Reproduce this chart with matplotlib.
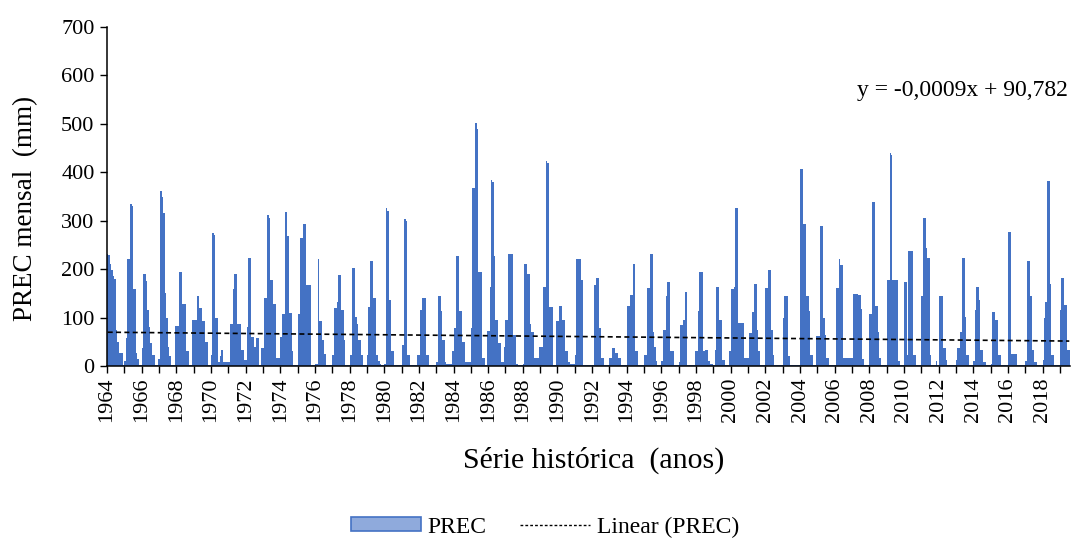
import numpy as np
import pandas as pd
import matplotlib
matplotlib.use("Agg")
import matplotlib.pyplot as plt
from matplotlib.patches import Patch
from matplotlib.lines import Line2D

plt.rcParams['font.family'] = ['Liberation Serif', 'DejaVu Serif']

# === Monthly precipitation (mm), Jan/1964 onwards, one row per year ===
prec_1964_1973 = [
    232, 230, 210, 199, 185, 180, 75, 50, 26, 26, 26, 2,      # 1964
    10, 57, 220, 220, 335, 330, 158, 158, 26, 15, 3, 3,       # 1965
    37, 190, 190, 175, 116, 80, 47, 23, 23, 3, 3, 15,         # 1966
    15, 361, 350, 315, 150, 99, 40, 20, 2, 2, 2, 83,          # 1967
    83, 83, 194, 194, 128, 128, 128, 30, 30, 2, 2, 95,        # 1968
    95, 95, 145, 145, 120, 120, 92, 92, 49, 49, 2, 2,         # 1969
    23, 274, 270, 100, 100, 9, 20, 33, 8, 8, 8, 8,            # 1970
    8, 86, 86, 158, 191, 191, 86, 86, 86, 33, 33, 12,         # 1971
    12, 80, 223, 223, 59, 59, 40, 57, 57, 3, 3, 37,           # 1972
    37, 140, 140, 311, 305, 178, 178, 128, 128, 16, 16, 16,   # 1973
]
prec_1974_1983 = [
    60, 107, 107, 319, 319, 268, 109, 109, 30, 3, 3, 3,       # 1974
    107, 107, 265, 265, 294, 294, 168, 168, 168, 2, 2, 2,     # 1975
    5, 5, 220, 92, 92, 54, 24, 24, 2, 2, 2, 2,                # 1976
    23, 120, 120, 132, 187, 187, 116, 116, 54, 3, 3, 3,       # 1977
    23, 23, 202, 202, 102, 86, 54, 54, 23, 2, 2, 2,           # 1978
    23, 121, 216, 216, 140, 140, 23, 23, 10, 5, 2, 2,         # 1979
    5, 327, 320, 137, 137, 30, 30, 2, 2, 2, 2, 2,             # 1980
    44, 44, 303, 300, 23, 23, 2, 2, 2, 2, 2, 23,              # 1981
    23, 116, 140, 140, 140, 23, 23, 2, 2, 2, 2, 2,            # 1982
    8, 145, 145, 113, 54, 54, 8, 5, 5, 5, 5, 30,              # 1983
]
prec_1984_1993 = [
    78, 78, 228, 228, 113, 113, 50, 50, 9, 9, 9, 9,           # 1984
    78, 368, 368, 501, 490, 194, 194, 194, 16, 16, 2, 72,     # 1985
    72, 164, 385, 380, 227, 95, 95, 47, 47, 9, 9, 40,         # 1986
    95, 95, 232, 232, 232, 65, 65, 5, 5, 2, 2, 2,             # 1987
    5, 210, 210, 190, 190, 86, 71, 71, 16, 16, 16, 40,        # 1988
    40, 40, 164, 164, 424, 420, 121, 121, 121, 3, 3, 92,      # 1989
    92, 123, 123, 95, 95, 30, 30, 9, 9, 5, 5, 5,              # 1990
    23, 220, 220, 220, 178, 178, 3, 3, 2, 2, 2, 2,            # 1991
    2, 168, 168, 182, 182, 78, 16, 16, 2, 2, 2, 2,            # 1992
    16, 16, 37, 37, 26, 26, 16, 16, 3, 3, 3, 3,               # 1993
]
prec_1994_2003 = [
    124, 124, 147, 147, 210, 210, 30, 30, 2, 2, 2, 2,         # 1994
    23, 23, 161, 161, 232, 232, 70, 40, 10, 3, 3, 3,          # 1995
    10, 75, 75, 144, 173, 173, 30, 30, 30, 2, 2, 2,           # 1996
    8, 85, 85, 95, 153, 153, 2, 2, 2, 2, 2, 30,               # 1997
    30, 113, 194, 194, 194, 30, 33, 33, 10, 10, 5, 5,         # 1998
    2, 33, 164, 164, 95, 95, 12, 12, 2, 2, 2, 30,             # 1999
    158, 158, 164, 327, 327, 88, 88, 88, 88, 16, 16, 16,      # 2000
    16, 68, 68, 111, 169, 169, 75, 30, 3, 3, 3, 3,            # 2001
    161, 161, 199, 199, 75, 23, 2, 2, 2, 2, 2, 2,             # 2002
    99, 144, 144, 144, 20, 3, 2, 2, 2, 2, 2, 2,               # 2003
]
prec_2004_2013 = [
    406, 406, 294, 294, 144, 144, 114, 23, 23, 2, 2, 61,      # 2004
    61, 61, 289, 289, 99, 64, 16, 16, 2, 2, 2, 2,             # 2005
    2, 161, 161, 220, 209, 209, 16, 16, 16, 16, 16, 16,       # 2006
    16, 149, 149, 149, 146, 146, 117, 15, 2, 2, 2, 2,         # 2007
    107, 107, 339, 339, 123, 123, 71, 16, 2, 2, 2, 2,         # 2008
    178, 178, 439, 435, 178, 178, 178, 178, 10, 2, 2, 2,      # 2009
    173, 173, 23, 237, 237, 237, 23, 23, 2, 2, 2, 2,          # 2010
    144, 306, 306, 244, 222, 222, 23, 2, 2, 2, 10, 2,         # 2011
    144, 144, 144, 37, 37, 12, 2, 2, 2, 2, 2, 2,              # 2012
    12, 37, 37, 71, 223, 223, 102, 23, 23, 2, 2, 2,           # 2013
]
prec_2014_2019 = [
    10, 116, 164, 164, 137, 33, 33, 9, 9, 2, 2, 2,            # 2014
    5, 111, 111, 95, 95, 23, 23, 2, 2, 2, 2, 2,               # 2015
    277, 277, 24, 24, 24, 24, 2, 2, 2, 2, 2, 2,               # 2016
    10, 216, 216, 144, 144, 33, 9, 9, 2, 2, 2, 2,             # 2017
    12, 99, 133, 382, 382, 169, 23, 23, 2, 2, 2, 2,           # 2018
    116, 182, 182, 126, 126, 33, 33,                          # 2019
]

# Excel trend line: y = a*x + b, x = date serial number
trend_a = -0.0009
trend_b = 90.782

prec = np.array(prec_1964_1973 + prec_1974_1983 + prec_1984_1993
                + prec_1994_2003 + prec_2004_2013 + prec_2014_2019, dtype=float)
n = len(prec)
months = pd.date_range("1964-01-01", periods=n, freq="MS")
serial = (months - pd.Timestamp("1899-12-30")).days.values
trend = trend_a * serial + trend_b

years = np.arange(1964, 1964 + int(np.ceil(n / 12)))

fig = plt.figure(figsize=(10.72, 5.41), dpi=100)
ax = fig.add_axes([107 / 1072, 1 - 366 / 541, 963 / 1072, 339 / 541])

pos = np.arange(n) + 0.5
ax.bar(pos, prec, width=1.0, color='#4472C4', linewidth=0)
ax.plot(pos, trend, color='black', linestyle=(0, (3, 2)), linewidth=1.2)

ax.set_xlim(0, n)
ax.set_ylim(0, 700)
ax.set_yticks(range(0, 701, 100))
ax.set_xticks((years - 1964) * 12)
ax.set_xticklabels([str(y) if (y - 1964) % 2 == 0 else '' for y in years],
                   rotation=90)
ax.tick_params(axis='both', direction='out', length=5, width=1, labelsize=16,
               color='black')
ax.tick_params(axis='y', pad=4)
ax.tick_params(axis='x', pad=3)
for s in ['top', 'right']:
    ax.spines[s].set_visible(False)
for s in ['left', 'bottom']:
    ax.spines[s].set_linewidth(1.1)

ax.text(0.998, 0.814, 'y = -0,0009x + 90,782', transform=ax.transAxes,
        ha='right', va='center', fontsize=17)

fig.text(26 / 1072, 1 - 208 / 541, 'PREC mensal  (mm)', rotation=90,
         ha='center', va='center', fontsize=19.5)
fig.text(594 / 1072, 1 - 460 / 541, 'Série histórica  (anos)',
         ha='center', va='center', fontsize=21.5)

handles = [Patch(facecolor='#8FAADC', edgecolor='#4472C4', linewidth=1.2),
           Line2D([], [], color='black', linestyle=(0, (2, 1.5)), linewidth=1)]
fig.legend(handles, ['PREC', 'Linear (PREC)'], loc='center',
           bbox_to_anchor=(545 / 1072, 1 - 527 / 541), ncol=2, frameon=False,
           fontsize=17, handlelength=2.95, handleheight=0.5, columnspacing=1.4,
           handletextpad=0.3)

fig.savefig("out.png", dpi=100)
